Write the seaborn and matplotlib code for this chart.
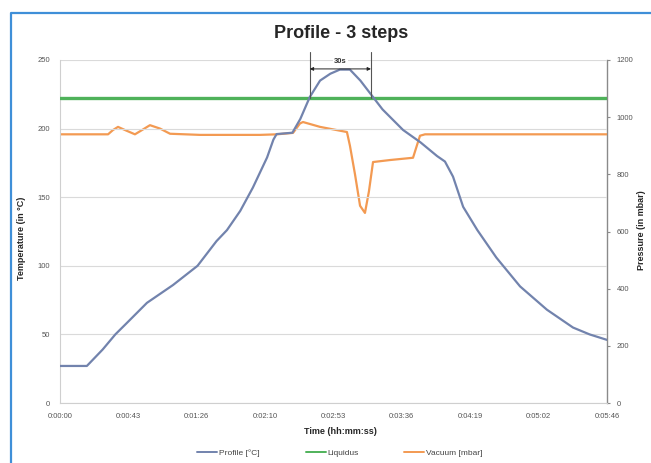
import matplotlib
matplotlib.use("Agg")
import matplotlib.pyplot as plt
from matplotlib.lines import Line2D
import seaborn as sns
import pandas as pd

# ---- data ----
profile_t = [0, 17, 27, 35, 42, 55, 71.5, 87, 93, 99, 105.6, 114, 122, 131, 135, 137,
             147, 152, 158, 164.5, 171, 177, 183.4, 190, 198, 204, 217, 228, 238.5,
             243.5, 248.6, 255, 264, 276, 291, 308, 324.5, 335, 346]
profile_temp = [27, 27, 39, 50, 58, 73, 86, 100, 109, 118, 126, 140, 157, 179, 192, 196,
                197, 207, 223, 235, 240, 243, 243, 235, 223, 214, 199, 190, 180,
                176, 165, 143, 126, 106, 85, 68, 55, 50, 46]

vacuum_t = [0, 30.4, 33.5, 36.7, 41.1, 47.4, 51.9, 56.9, 63.3, 69.6, 88.6, 126.5, 137.3,
            147.4, 151.8, 153.7, 164.5, 181.5, 183.4, 186.6, 189.8, 192.9, 195.4, 198,
            208.7, 223.3, 227.7, 230.9, 346]
vacuum_mbar = [940, 940, 955, 966, 955, 940, 955, 972, 960, 942, 938, 938, 940,
               945, 978, 983, 966, 948, 900, 800, 690, 665, 740, 843,
               850, 858, 935, 940, 940]

liquidus_t = [0, 346]
liquidus_temp = [222, 222]

x_tick_labels = ["0:00:00", "0:00:43", "0:01:26", "0:02:10", "0:02:53",
                 "0:03:36", "0:04:19", "0:05:02", "0:05:46"]
temp_ticks = [0, 50, 100, 150, 200, 250]
pressure_ticks = [0, 200, 400, 600, 800, 1000, 1200]
window_t = [158, 196.7]   # liquidus crossings marking the "30s" window
window_label = "30s"

title = "Profile - 3 steps"

df_p = pd.DataFrame({"t": profile_t, "temp": profile_temp})
df_v = pd.DataFrame({"t": vacuum_t, "mbar": vacuum_mbar})
df_l = pd.DataFrame({"t": liquidus_t, "temp": liquidus_temp})

# ---- style ----
sns.set_style("white")
plt.rcParams["font.family"] = ["Liberation Sans", "DejaVu Sans"]

c_prof = "#7283ad"
c_liq = "#4fb25a"
c_vac = "#f39a52"
tick_col = "#555555"

fig = plt.figure(figsize=(6.51, 4.63), dpi=100)
ax = fig.add_axes([60 / 651, 60 / 463, 547 / 651, 343 / 463])
ax2 = ax.twinx()

sns.lineplot(data=df_l, x="t", y="temp", ax=ax, color=c_liq, lw=2.4, zorder=3)
sns.lineplot(data=df_p, x="t", y="temp", ax=ax, color=c_prof, lw=1.6, zorder=4)
sns.lineplot(data=df_v, x="t", y="mbar", ax=ax2, color=c_vac, lw=1.6, zorder=4)

ax.set_zorder(ax2.get_zorder() + 1)
ax.patch.set_visible(False)

x_ticks = [346 * i / 8 for i in range(9)]
ax.set_xlim(0, 346)
ax.set_ylim(0, 250)
ax2.set_ylim(0, 1200)
ax.set_xticks(x_ticks)
ax.set_xticklabels(x_tick_labels)
ax.set_yticks(temp_ticks)
ax2.set_yticks(pressure_ticks)

ax.grid(axis="y", color="#dadada", lw=0.8)
ax.grid(axis="x", visible=False)
ax2.grid(False)

for a in (ax, ax2):
    for s in a.spines.values():
        s.set_visible(False)
ax.spines["left"].set_visible(True)
ax.spines["left"].set_color("#cfcfcf")
ax.spines["bottom"].set_visible(True)
ax.spines["bottom"].set_color("#cfcfcf")
ax2.spines["right"].set_visible(True)
ax2.spines["right"].set_color("#8a8a8a")
ax2.spines["right"].set_linewidth(1.0)

ax.tick_params(axis="x", labelsize=5.5, colors=tick_col, length=2, pad=5,
               color="#cfcfcf")
ax.tick_params(axis="y", labelsize=5.5, colors=tick_col, length=0, pad=7)
ax2.tick_params(axis="y", labelsize=5.5, colors=tick_col, length=2, pad=5,
                color="#8a8a8a")

ax.set_xlabel("")
ax.set_ylabel("")
ax2.set_ylabel("")
for a in (ax, ax2):
    if a.get_legend():
        a.get_legend().remove()

# axis titles
fig.text(340 / 651, 1 - 432 / 463, "Time (hh:mm:ss)", ha="center", va="center",
         fontsize=6.5, fontweight="bold")
fig.text(22 / 651, 1 - 238 / 463, "Temperature (in °C)", ha="center", va="center",
         rotation=90, fontsize=6.5, fontweight="bold")
fig.text(641 / 651, 1 - 230 / 463, "Pressure (in mbar)", ha="center", va="center",
         rotation=90, fontsize=6.5, fontweight="bold")

fig.text(341 / 651, 1 - 33 / 463, title, ha="center", va="center",
         fontsize=13, fontweight="bold")

# 30s window annotation
for tx in window_t:
    ax.plot([tx, tx], [222, 256], color="#555555", lw=0.8, clip_on=False, zorder=5)
ax.annotate("", xy=(window_t[0], 243.5), xytext=(window_t[1], 243.5),
            arrowprops=dict(arrowstyle="<|-|>", color="#222222", lw=0.7,
                            mutation_scale=5, shrinkA=0, shrinkB=0),
            zorder=6, annotation_clip=False)
ax.text(sum(window_t) / 2, 249, window_label, ha="center", va="center",
        fontsize=5.5, fontweight="bold", color="#333333", zorder=6,
        bbox=dict(boxstyle="square,pad=0.15", fc="white", ec="none"))

# legend
handles = [Line2D([], [], color=c_prof, lw=1.4),
           Line2D([], [], color=c_liq, lw=1.4),
           Line2D([], [], color=c_vac, lw=1.4)]
fig.legend(handles, ["Profile [°C]", "Liquidus", "Vacuum [mbar]"],
           loc="center", bbox_to_anchor=(340 / 651, 1 - 453 / 463), ncol=3,
           frameon=False, fontsize=6, handlelength=2.4, handletextpad=0.2,
           columnspacing=5.5, labelcolor="#444444")

# blue frame around the chart
fig.add_artist(Line2D([11 / 651, 11 / 651, 1.0], [0.0, 1 - 13 / 463, 1 - 13 / 463],
                      transform=fig.transFigure, color="#3f8fd8", lw=1.6))

fig.savefig("out.png", dpi=100, facecolor="white")
